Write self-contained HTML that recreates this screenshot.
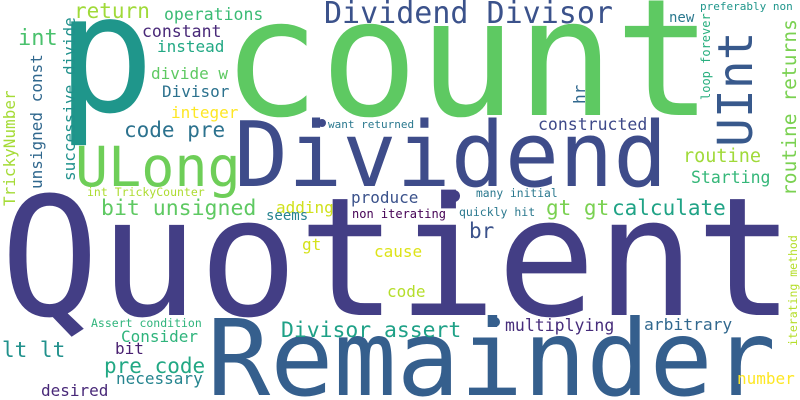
<!DOCTYPE html>
<html><head><meta charset="utf-8"><style>
html,body{margin:0;padding:0;background:#fff}
svg{display:block}
text{font-family:"DejaVu Sans Mono","Liberation Mono",monospace}
</style></head><body>
<svg width="800" height="400" viewBox="0 0 800 400">
<rect width="800" height="400" fill="#fff"/>
<text x="0" y="315" font-size="165" fill="#433e85">Quotient</text>
<text x="207" y="395" font-size="105" fill="#355f8d">Remainder</text>
<text x="222" y="115" font-size="163" fill="#5ec962">count</text>
<text x="56" y="111" font-size="164" fill="#1f968b">p</text>
<text x="234" y="186" font-size="90" fill="#3e4c8a">Dividend</text>
<text transform="translate(752,147) rotate(-90)" font-size="48" fill="#38598c">UInt</text>
<text x="75" y="186" font-size="55" fill="#6ece58">ULong</text>
<text x="324" y="23" font-size="30" fill="#3b528b">Dividend Divisor</text>
<text x="74" y="18" font-size="21" fill="#a0da39">return</text>
<text x="164" y="20" font-size="16.5" fill="#3bbb75">operations</text>
<text x="18" y="45" font-size="22" fill="#4ac16d">int</text>
<text x="142" y="37" font-size="16.5" fill="#482878">constant</text>
<text x="157" y="52" font-size="16" fill="#22a884">instead</text>
<text x="151" y="79" font-size="16" fill="#5ec962">divide w</text>
<text x="162" y="97" font-size="16" fill="#2c728e">Divisor</text>
<text x="171" y="118" font-size="16" fill="#fde725">integer</text>
<text x="124" y="137" font-size="21" fill="#2c728e">code pre</text>
<text transform="translate(75,181) rotate(-90)" font-size="16" fill="#21918c">successive divide</text>
<text transform="translate(42,189) rotate(-90)" font-size="16" fill="#31688e">unsigned const</text>
<text transform="translate(15,206) rotate(-90)" font-size="16" fill="#a5db36">TrickyNumber</text>
<text x="87" y="196" font-size="11.5" fill="#addc30">int TrickyCounter</text>
<circle cx="322" cy="123" r="4" fill="#3e4989"/>
<text x="328" y="128" font-size="11" fill="#2a788e">want returned</text>
<text x="700" y="10" font-size="11" fill="#1f968b">preferably non</text>
<text x="669" y="22" font-size="14" fill="#2a788e">new</text>
<text transform="translate(710,100) rotate(-90)" font-size="12" fill="#29af7f">loop forever</text>
<text transform="translate(796,196) rotate(-90)" font-size="19.6" fill="#7ad151">routine returns</text>
<text transform="translate(585,104) rotate(-90)" font-size="16" fill="#31688e">hr</text>
<text x="538" y="130" font-size="16.5" fill="#3e4989">constructed</text>
<text x="683" y="162" font-size="18.5" fill="#a0da39">routine</text>
<text x="691" y="183" font-size="16.5" fill="#35b779">Starting</text>
<text x="476" y="197" font-size="11.3" fill="#2a788e">many initial</text>
<text x="351" y="203" font-size="16" fill="#3b528b">produce</text>
<circle cx="454" cy="196" r="6" fill="#433e85"/>
<circle cx="495" cy="322" r="5" fill="#355f8d"/>
<text x="101" y="215" font-size="21.5" fill="#5ec962">bit unsigned</text>
<text x="276" y="213" font-size="16" fill="#d0e11c">adding</text>
<text x="266" y="220" font-size="14" fill="#26828e">seems</text>
<text x="352" y="218" font-size="12" fill="#440154">non iterating</text>
<text x="459" y="216" font-size="11.5" fill="#2a788e">quickly hit</text>
<text x="546" y="215" font-size="21" fill="#7ad151">gt gt</text>
<text x="612" y="215" font-size="21" fill="#20a386">calculate</text>
<text x="469" y="238" font-size="21" fill="#3b528b">br</text>
<text x="302" y="250" font-size="16" fill="#d5e21a">gt</text>
<text x="374" y="257" font-size="16" fill="#dde318">cause</text>
<text x="387" y="297" font-size="16" fill="#b5de2b">code</text>
<text x="91" y="327" font-size="11.5" fill="#2fb47c">Assert condition</text>
<text transform="translate(797,346) rotate(-90)" font-size="11.5" fill="#b5de2b">iterating method</text>
<text x="281" y="337" font-size="21.4" fill="#1fa187">Divisor assert</text>
<text x="505" y="331" font-size="16.5" fill="#472d7b">multiplying</text>
<text x="644" y="330" font-size="16.3" fill="#31688e">arbitrary</text>
<text x="121" y="342" font-size="16" fill="#2fb47c">Consider</text>
<text x="115" y="354" font-size="16" fill="#481f70">bit</text>
<text x="2" y="357" font-size="21" fill="#21918c">lt lt</text>
<text x="104" y="373" font-size="21" fill="#22a884">pre code</text>
<text x="116" y="384" font-size="16" fill="#25848e">necessary</text>
<text x="41" y="396" font-size="16" fill="#482878">desired</text>
<text x="737" y="384" font-size="16" fill="#fde725">number</text>
</svg>
</body></html>
